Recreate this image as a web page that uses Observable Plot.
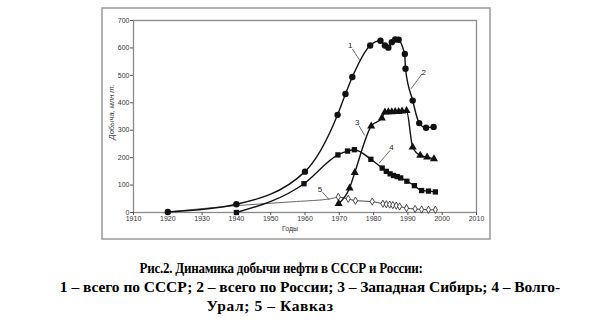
<!DOCTYPE html>
<html><head><meta charset="utf-8">
<script src="https://cdn.jsdelivr.net/npm/d3@7"></script>
<script src="https://cdn.jsdelivr.net/npm/@observablehq/plot@0.6"></script>
<style>
body{margin:0;background:#fff;width:589px;height:326px;position:relative;overflow:hidden}
#chart{position:absolute;left:0;top:0}
.cap{position:absolute;transform:translateX(-50%);white-space:nowrap;font-family:"Liberation Serif","Times New Roman",serif;font-weight:bold;font-size:15.5px;color:#000}
</style></head>
<body>
<div id="chart"></div>
<div class="cap" style="left:281px;top:259px;letter-spacing:-0.3px;transform:translateX(-50%) scaleX(0.84)">Рис.2. Динамика добычи нефти в СССР и России:</div>
<div class="cap" style="left:310px;top:278px;letter-spacing:-0.05px">1 – всего по СССР; 2 – всего по России; 3 – Западная Сибирь; 4 – Волго-</div>
<div class="cap" style="left:270px;top:297px;letter-spacing:0.6px">Урал; 5 – Кавказ</div>
<script>
// 1 — USSR total
const ussrYears  = [1920, 1940, 1960, 1969.5, 1971.8, 1973.8, 1979, 1982, 1983.3, 1984.3, 1985.3, 1986.3, 1987.3, 1989.1];
const ussrValues = [2, 30, 149, 356, 432, 494, 609, 626, 609, 601, 621, 631, 630, 578];
// 2 — Russia total
const russiaYears  = [1989.3, 1991.4, 1993.3, 1995.3, 1997.5];
const russiaValues = [524, 408, 326, 309, 312];
// 3 — West Siberia
const wsibYears  = [1969.8, 1973, 1974.5, 1979.3, 1982.4, 1983.3, 1984.3, 1985.3, 1986.3, 1987.3, 1988.3, 1989.6, 1991.4, 1993.6, 1995.6, 1997.6];
const wsibValues = [32, 89, 145, 315, 344, 366, 367, 367, 368, 368, 369, 371, 238, 208, 202, 195];
// 4 — Volga-Ural
const vuYears  = [1940, 1959.7, 1969.6, 1972.4, 1974.4, 1979.2, 1982.5, 1983.7, 1984.8, 1985.8, 1986.9, 1987.9, 1989.7, 1991.9, 1994, 1996, 1998];
const vuValues = [0, 105, 210, 224, 229, 194, 162, 150, 141, 135, 131, 126, 114, 98, 80, 78, 75];
// 5 — Caucasus (thin line before 1970, open diamonds after)
const cauLineYears  = [1920, 1940, 1948, 1957.5, 1967.4];
const cauLineValues = [2, 25, 32, 40, 50];
const cauYears  = [1969.7, 1972.6, 1974.7, 1979.6, 1982.7, 1983.7, 1984.7, 1985.6, 1986.6, 1987.6, 1989.6, 1992.1, 1994, 1996, 1998];
const cauValues = [57, 50, 43, 40, 32, 30, 29, 27, 25, 22, 16, 13, 11, 10, 10];

const xTicks = [1910, 1920, 1930, 1940, 1950, 1960, 1970, 1980, 1990, 2000, 2010];
const yTicks = [0, 100, 200, 300, 400, 500, 600, 700];
const yTitle = "Добыча, млн т.";
const xTitle = "Годы";

// curve labels and leader lines (data coordinates)
const labelText  = ["1", "2", "3", "4", "5"];
const labelYear  = [1973.2, 1994.6, 1975.2, 1985.2, 1964.4];
const labelValue = [609, 511, 329, 238, 84];
const leadX1 = [1973.8, 1994.1, 1975.7, 1984.8, 1965.1];
const leadY1 = [596, 505, 317, 226, 74];
const leadX2 = [1976, 1990.9, 1977.4, 1981.6, 1967.1];
const leadY2 = [554, 451, 281, 180, 46];

const zip = (xs, ys) => xs.map((x, i) => ({x, y: ys[i]}));
const ussr = zip(ussrYears, ussrValues);
const russia = zip(russiaYears, russiaValues);
const wsib = zip(wsibYears, wsibValues);
const vu = zip(vuYears, vuValues);
const cauLine = zip(cauLineYears, cauLineValues);
const cau = zip(cauYears, cauValues);
const labels = labelText.map((t, i) => ({t, x: labelYear[i], y: labelValue[i], x1: leadX1[i], y1: leadY1[i], x2: leadX2[i], y2: leadY2[i]}));

const curve = "monotone-x";
const plot = Plot.plot({
  width: 589,
  height: 250,
  marginLeft: 133,
  marginRight: 113,
  marginTop: 20,
  marginBottom: 38,
  style: {fontFamily: "Liberation Sans, Arial, sans-serif", fontSize: "7px", color: "#222", background: "#fff"},
  x: {domain: [1910, 2010]},
  y: {domain: [0, 700]},
  marks: [
    Plot.frame({stroke: "#8a8a8a", strokeWidth: 1.3}),
    Plot.axisY({ticks: yTicks, tickSize: 3, tickPadding: 1, label: null, stroke: "#555", fill: "#333", fontSize: 7}),
    Plot.axisX({ticks: xTicks, tickSize: 3, tickPadding: 1, label: null, tickFormat: d => String(d), stroke: "#555", fill: "#333", fontSize: 7}),
    // Caucasus
    Plot.line([...cauLine, cau[0]], {x: "x", y: "y", curve, stroke: "#555", strokeWidth: 0.9}),
    Plot.line(cau, {x: "x", y: "y", curve, stroke: "#333", strokeWidth: 0.9}),
    Plot.dot(cau, {x: "x", y: "y", symbol: "diamond", r: 2.2, fill: "#fff", stroke: "#222", strokeWidth: 0.8}),
    // Volga-Ural
    Plot.line(vu, {x: "x", y: "y", curve, stroke: "#111", strokeWidth: 1.4}),
    Plot.dot(vu, {x: "x", y: "y", symbol: "square", r: 3, fill: "#111", stroke: "none"}),
    // West Siberia
    Plot.line(wsib, {x: "x", y: "y", curve, stroke: "#111", strokeWidth: 1.4}),
    Plot.dot(wsib, {x: "x", y: "y", symbol: "triangle", r: 3, fill: "#111", stroke: "none"}),
    // USSR and Russia
    Plot.line(ussr, {x: "x", y: "y", curve, stroke: "#111", strokeWidth: 1.4}),
    Plot.line([ussr[ussr.length - 1], ...russia], {x: "x", y: "y", curve, stroke: "#111", strokeWidth: 1.4}),
    Plot.dot(ussr, {x: "x", y: "y", r: 3.2, fill: "#111", stroke: "none"}),
    Plot.dot(russia, {x: "x", y: "y", r: 3.2, fill: "#111", stroke: "none"}),
    // labels
    Plot.link(labels, {x1: "x1", y1: "y1", x2: "x2", y2: "y2", stroke: "#444", strokeWidth: 0.8}),
    Plot.text(labels, {x: "x", y: "y", text: "t", fontSize: 8, fill: "#222"})
  ]
});
document.getElementById("chart").appendChild(plot);
const svg = d3.select(plot);
// outer grey border around the figure
svg.insert("rect", ":first-child")
  .attr("x", 102).attr("y", 8).attr("width", 388).attr("height", 231)
  .attr("fill", "none").attr("stroke", "#999").attr("stroke-width", 1.5);
// axis titles
svg.append("text").text(yTitle)
  .attr("transform", "translate(114,112) rotate(-90)")
  .attr("text-anchor", "middle").attr("font-size", 7.5).attr("font-style", "italic")
  .attr("fill", "#333");
svg.append("text").text(xTitle)
  .attr("x", 290).attr("y", 231)
  .attr("text-anchor", "middle").attr("font-size", 7).attr("fill", "#333");
</script>
</body></html>
